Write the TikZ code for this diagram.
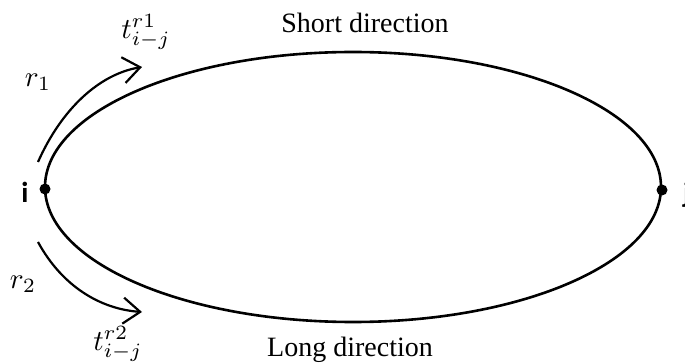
\documentclass[tikz,border=0pt]{standalone}
\usepackage{fontspec}
\setmainfont{Liberation Serif}
\newfontfamily\lblfont{Carlito}
\usetikzlibrary{arrows.meta}
\tikzset{
  lbl/.style={inner sep=0pt, font=\fontsize{28}{32}\selectfont},
  mlbl/.style={inner sep=0pt, scale=2.9},
  ptlbl/.style={inner sep=0pt, font=\lblfont\bfseries\fontsize{29}{34}\selectfont},
  dirarrow/.style={line width=2.2pt, -{Straight Barb[length=17pt, width=26pt, line width=2.2pt]}},
  ring/.style={line width=2.6pt},
  pt/.style={circle, fill=black, inner sep=0pt, minimum size=11pt}
}
\begin{document}
\begin{tikzpicture}[x=1pt,y=-1pt]
\useasboundingbox (0,0) rectangle (685,363);
\draw[ring] (353,187) ellipse [x radius=308, y radius=135];
\node[pt] (i) at (45,189) {};
\node[pt] (j) at (662,190) {};
\node[ptlbl, anchor=base] (il) at (25,203) {i};
\node[ptlbl, anchor=base west] (jl) at (683,203) {j};
\node[lbl, anchor=base] (short) at (365,33) {Short direction};
\node[lbl, anchor=base] (long) at (350,356) {Long direction};
\node[mlbl] (r1) at (38,82) {$r_1$};
\node[mlbl] (r2) at (23,284) {$r_2$};
\node[mlbl] (t1) at (146,32) {$t_{i-j}^{r1}$};
\node[mlbl] (t2) at (118,344) {$t_{i-j}^{r2}$};
\coordinate (a1s) at (38,162);
\coordinate (a1e) at (142,67);
\coordinate (a2s) at (38,242);
\coordinate (a2e) at (142,312);
\draw[dirarrow] (a1s) .. controls (62,108) and (100,74) .. (a1e);
\draw[dirarrow] (a2s) .. controls (62,286) and (100,309) .. (a2e);
\end{tikzpicture}
\end{document}
